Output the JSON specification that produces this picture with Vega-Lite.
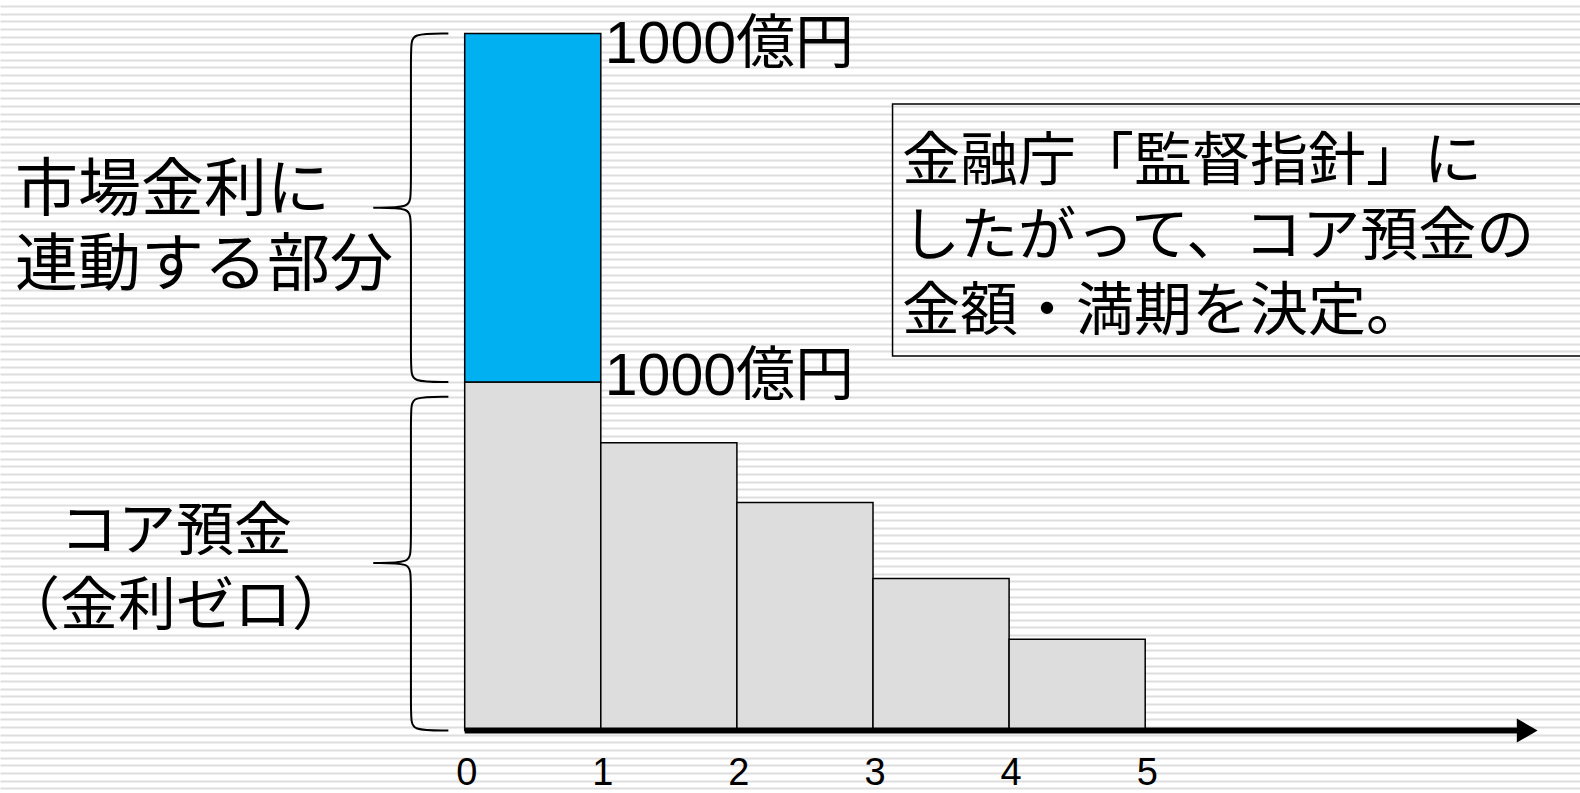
{
  "$schema": "https://vega.github.io/schema/vega-lite/v6.json",
  "width": 1580,
  "height": 793,
  "padding": 0,
  "autosize": {"type": "none"},
  "background": "white",
  "config": {"view": {"stroke": null}},
  "datasets": {
    "stripes": [{"k": 0}],
    "bars": [
      {"part": "コア預金", "start": 0, "end": 1, "low": 0, "high": 1000},
      {"part": "市場金利に連動する部分", "start": 0, "end": 1, "low": 1000, "high": 2000},
      {"part": "コア預金", "start": 1, "end": 2, "low": 0, "high": 826},
      {"part": "コア預金", "start": 2, "end": 3, "low": 0, "high": 654},
      {"part": "コア預金", "start": 3, "end": 4, "low": 0, "high": 436},
      {"part": "コア預金", "start": 4, "end": 5, "low": 0, "high": 262}
    ],
    "ticks": [{"t": 0}, {"t": 1}, {"t": 2}, {"t": 3}, {"t": 4}, {"t": 5}],
    "amounts": [
      {"pos": "top", "x": 1, "y": 2000, "label": "1000億円"},
      {"pos": "mid", "x": 1, "y": 1000, "label": "1000億円"}
    ],
    "notes": [
      {"id": "upper", "x": -3.304, "y": 1547, "label": ["市場金利に", "連動する部分"]},
      {"id": "lower", "x": -2.121, "y": 567, "label": ["コア預金", "（金利ゼロ）"]},
      {"id": "box", "x": 3.213, "y": 1627, "label": ["金融庁「監督指針」に", "したがって、コア預金の", "金額・満期を決定。"]}
    ],
    "braces": [
      {"brace": "upper", "i": 1, "bx": -0.12, "by": 2000},
      {"brace": "upper", "i": 2, "bx": -0.395, "by": 2000},
      {"brace": "upper", "i": 3, "bx": -0.395, "by": 1965},
      {"brace": "upper", "i": 4, "bx": -0.395, "by": 1535},
      {"brace": "upper", "i": 5, "bx": -0.395, "by": 1500},
      {"brace": "upper", "i": 6, "bx": -0.672, "by": 1500},
      {"brace": "upper", "i": 7, "bx": -0.672, "by": 1500},
      {"brace": "upper", "i": 8, "bx": -0.672, "by": 1500},
      {"brace": "upper", "i": 9, "bx": -0.395, "by": 1500},
      {"brace": "upper", "i": 10, "bx": -0.395, "by": 1465},
      {"brace": "upper", "i": 11, "bx": -0.395, "by": 1035},
      {"brace": "upper", "i": 12, "bx": -0.395, "by": 1000},
      {"brace": "upper", "i": 13, "bx": -0.12, "by": 1000},
      {"brace": "lower", "i": 1, "bx": -0.12, "by": 958},
      {"brace": "lower", "i": 2, "bx": -0.395, "by": 958},
      {"brace": "lower", "i": 3, "bx": -0.395, "by": 923},
      {"brace": "lower", "i": 4, "bx": -0.395, "by": 516},
      {"brace": "lower", "i": 5, "bx": -0.395, "by": 481},
      {"brace": "lower", "i": 6, "bx": -0.672, "by": 481},
      {"brace": "lower", "i": 7, "bx": -0.672, "by": 481},
      {"brace": "lower", "i": 8, "bx": -0.672, "by": 481},
      {"brace": "lower", "i": 9, "bx": -0.395, "by": 481},
      {"brace": "lower", "i": 10, "bx": -0.395, "by": 446},
      {"brace": "lower", "i": 11, "bx": -0.395, "by": 35},
      {"brace": "lower", "i": 12, "bx": -0.395, "by": 0},
      {"brace": "lower", "i": 13, "bx": -0.12, "by": 0}
    ]
  },
  "layer": [
    {
      "data": {"name": "stripes"},
      "mark": {"type": "point", "opacity": 0},
      "encoding": {
        "y": {
          "field": "k",
          "type": "quantitative",
          "scale": {"domain": [-0.6, 102.8], "nice": false, "zero": false},
          "axis": {
            "grid": true,
            "tickCount": 104,
            "labels": false,
            "ticks": false,
            "domain": false,
            "title": null,
            "gridColor": "#dedede",
            "gridWidth": 2
          }
        }
      }
    },
    {
      "layer": [
        {
          "data": {"name": "bars"},
          "mark": {"type": "rect", "stroke": "#000000", "strokeWidth": 1.5},
          "encoding": {
            "x": {"field": "start", "type": "quantitative", "scale": {"domain": [-3.4144, 8.1947], "nice": false, "zero": false}, "axis": null},
            "x2": {"field": "end"},
            "y": {"field": "low", "type": "quantitative", "scale": {"domain": [-179.3, 2096.1], "nice": false, "zero": false}, "axis": null},
            "y2": {"field": "high"},
            "color": {
              "field": "part",
              "type": "nominal",
              "scale": {"domain": ["コア預金", "市場金利に連動する部分"], "range": ["#DDDDDD", "#00B0F0"]},
              "legend": null
            }
          }
        },
        {
          "data": {"values": [{}]},
          "mark": {"type": "rule", "color": "#000000", "strokeWidth": 6},
          "encoding": {
            "x": {"datum": 0, "type": "quantitative", "scale": {"domain": [-3.4144, 8.1947], "nice": false, "zero": false}, "axis": null},
            "x2": {"datum": 7.75},
            "y": {"datum": 0, "type": "quantitative", "scale": {"domain": [-179.3, 2096.1], "nice": false, "zero": false}, "axis": null}
          }
        },
        {
          "data": {"values": [{}]},
          "mark": {"type": "point", "shape": "triangle-right", "filled": true, "color": "#000000", "opacity": 1, "size": 576},
          "encoding": {
            "x": {"datum": 7.807, "type": "quantitative", "scale": {"domain": [-3.4144, 8.1947], "nice": false, "zero": false}, "axis": null},
            "y": {"datum": 0, "type": "quantitative", "scale": {"domain": [-179.3, 2096.1], "nice": false, "zero": false}, "axis": null}
          }
        },
        {
          "data": {"name": "braces"},
          "mark": {"type": "line", "interpolate": "basis", "color": "#000000", "strokeWidth": 2},
          "encoding": {
            "x": {"field": "bx", "type": "quantitative", "scale": {"domain": [-3.4144, 8.1947], "nice": false, "zero": false}, "axis": null},
            "y": {"field": "by", "type": "quantitative", "scale": {"domain": [-179.3, 2096.1], "nice": false, "zero": false}, "axis": null},
            "detail": {"field": "brace", "type": "nominal"},
            "order": {"field": "i", "type": "quantitative"}
          }
        },
        {
          "data": {"values": [{}]},
          "mark": {"type": "rect", "fill": null, "fillOpacity": 0, "stroke": "#000000", "strokeWidth": 1.5},
          "encoding": {
            "x": {"datum": 3.1436, "type": "quantitative", "scale": {"domain": [-3.4144, 8.1947], "nice": false, "zero": false}, "axis": null},
            "x2": {"datum": 8.4},
            "y": {"datum": 1797.7, "type": "quantitative", "scale": {"domain": [-179.3, 2096.1], "nice": false, "zero": false}, "axis": null},
            "y2": {"datum": 1074.6}
          }
        },
        {
          "data": {"name": "ticks"},
          "mark": {"type": "text", "font": "Liberation Sans", "fontSize": 38, "align": "center", "baseline": "alphabetic", "dx": 2, "color": "#000000"},
          "encoding": {
            "x": {"field": "t", "type": "quantitative", "scale": {"domain": [-3.4144, 8.1947], "nice": false, "zero": false}, "axis": null},
            "y": {"datum": -156, "type": "quantitative", "scale": {"domain": [-179.3, 2096.1], "nice": false, "zero": false}, "axis": null},
            "text": {"field": "t", "type": "nominal"}
          }
        },
        {
          "data": {"name": "amounts"},
          "transform": [{"filter": "datum.pos === 'top'"}],
          "mark": {"type": "text", "font": "Liberation Sans, Noto Sans CJK JP", "fontSize": 59, "align": "left", "baseline": "alphabetic", "dx": 4, "dy": 30, "color": "#000000"},
          "encoding": {
            "x": {"field": "x", "type": "quantitative", "scale": {"domain": [-3.4144, 8.1947], "nice": false, "zero": false}, "axis": null},
            "y": {"field": "y", "type": "quantitative", "scale": {"domain": [-179.3, 2096.1], "nice": false, "zero": false}, "axis": null},
            "text": {"field": "label", "type": "nominal"}
          }
        },
        {
          "data": {"name": "amounts"},
          "transform": [{"filter": "datum.pos === 'mid'"}],
          "mark": {"type": "text", "font": "Liberation Sans, Noto Sans CJK JP", "fontSize": 59, "align": "left", "baseline": "alphabetic", "dx": 4, "dy": 13, "color": "#000000"},
          "encoding": {
            "x": {"field": "x", "type": "quantitative", "scale": {"domain": [-3.4144, 8.1947], "nice": false, "zero": false}, "axis": null},
            "y": {"field": "y", "type": "quantitative", "scale": {"domain": [-179.3, 2096.1], "nice": false, "zero": false}, "axis": null},
            "text": {"field": "label", "type": "nominal"}
          }
        },
        {
          "data": {"name": "notes"},
          "transform": [{"filter": "datum.id === 'upper'"}],
          "mark": {"type": "text", "font": "Noto Sans CJK JP", "fontSize": 63, "lineHeight": 75, "align": "left", "baseline": "middle", "color": "#000000"},
          "encoding": {
            "x": {"field": "x", "type": "quantitative", "scale": {"domain": [-3.4144, 8.1947], "nice": false, "zero": false}, "axis": null},
            "y": {"field": "y", "type": "quantitative", "scale": {"domain": [-179.3, 2096.1], "nice": false, "zero": false}, "axis": null},
            "text": {"field": "label", "type": "nominal"}
          }
        },
        {
          "data": {"name": "notes"},
          "transform": [{"filter": "datum.id === 'lower'"}],
          "mark": {"type": "text", "font": "Noto Sans CJK JP", "fontSize": 58, "lineHeight": 75, "align": "center", "baseline": "middle", "color": "#000000"},
          "encoding": {
            "x": {"field": "x", "type": "quantitative", "scale": {"domain": [-3.4144, 8.1947], "nice": false, "zero": false}, "axis": null},
            "y": {"field": "y", "type": "quantitative", "scale": {"domain": [-179.3, 2096.1], "nice": false, "zero": false}, "axis": null},
            "text": {"field": "label", "type": "nominal"}
          }
        },
        {
          "data": {"name": "notes"},
          "transform": [{"filter": "datum.id === 'box'"}],
          "mark": {"type": "text", "font": "Noto Sans CJK JP", "fontSize": 58, "lineHeight": 75, "align": "left", "baseline": "middle", "color": "#000000"},
          "encoding": {
            "x": {"field": "x", "type": "quantitative", "scale": {"domain": [-3.4144, 8.1947], "nice": false, "zero": false}, "axis": null},
            "y": {"field": "y", "type": "quantitative", "scale": {"domain": [-179.3, 2096.1], "nice": false, "zero": false}, "axis": null},
            "text": {"field": "label", "type": "nominal"}
          }
        }
      ]
    }
  ],
  "resolve": {"scale": {"y": "independent"}}
}
